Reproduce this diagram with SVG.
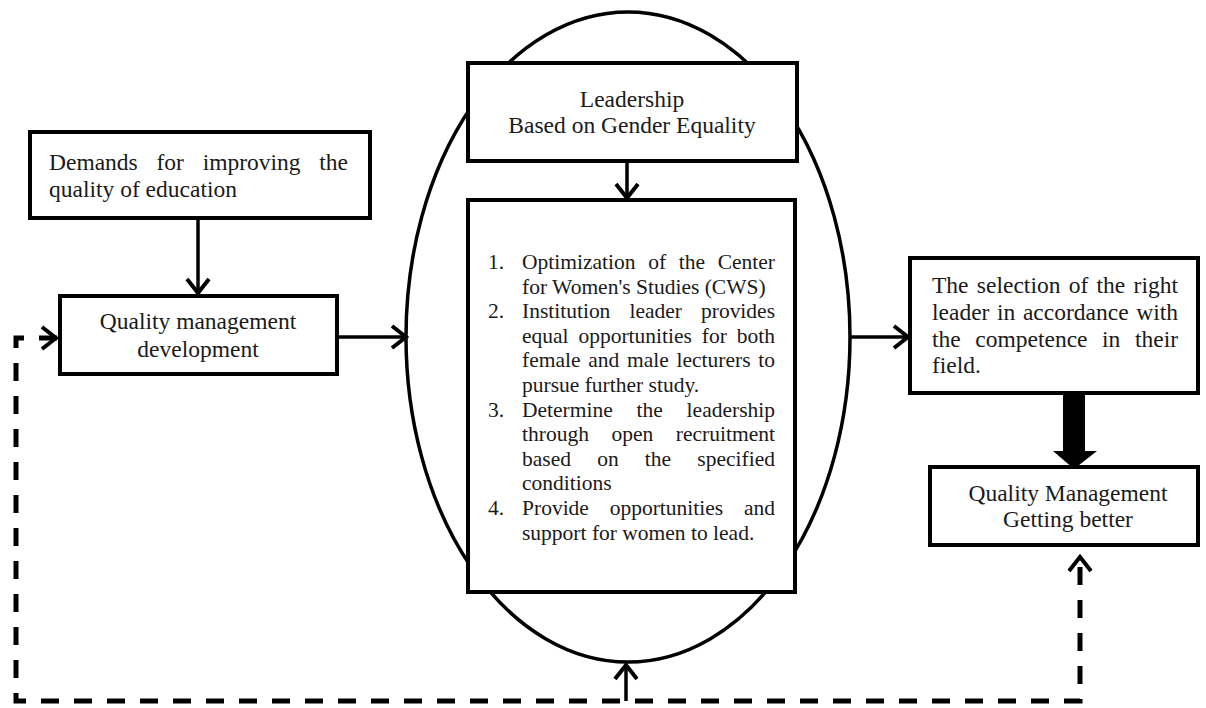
<svg xmlns="http://www.w3.org/2000/svg" width="1206" height="708" viewBox="0 0 1206 708">
<style>
.box{fill:#fff;stroke:#000;stroke-width:4}
.t{font-family:"Liberation Serif","Times New Roman",serif;font-size:23.5px;fill:#1a1a1a}
.l{font-family:"Liberation Serif","Times New Roman",serif;font-size:21.5px;fill:#1a1a1a}
.c{text-anchor:middle}
.con{fill:none;stroke:#000;stroke-width:3.5}
.dash{fill:none;stroke:#000;stroke-width:5;stroke-dasharray:18 15}
.ah{fill:none;stroke:#000;stroke-width:4;stroke-linejoin:miter}
</style>
<defs>
<marker id="arr" markerUnits="userSpaceOnUse" markerWidth="30" markerHeight="30" viewBox="-20 -15 24 30" refX="0" refY="0" orient="auto-start-reverse">
<path class="ah" d="M -15 -11 L -1 0 L -15 11"/>
</marker>
</defs>
<rect width="1206" height="708" fill="#fff"/>

<g id="oval">
<ellipse cx="628" cy="337" rx="222" ry="325" fill="none" stroke="#000" stroke-width="3.5"/>
</g>

<g id="connectors">
<line class="con" x1="198" y1="218" x2="198" y2="294" marker-end="url(#arr)"/>
<line class="con" x1="337" y1="337" x2="407" y2="337" marker-end="url(#arr)"/>
<line class="con" x1="627" y1="161" x2="627" y2="199" marker-end="url(#arr)"/>
<line class="con" x1="851" y1="337" x2="909" y2="337" marker-end="url(#arr)"/>
<rect x="1063" y="393" width="22" height="60" fill="#000"/>
<polygon points="1053,451 1097,451 1074,469" fill="#000"/>
<path class="dash" d="M 57 338 L 16 338 L 16 701 L 1080 701 L 1080 556" marker-start="url(#arr)" marker-end="url(#arr)"/>
<line class="con" x1="626" y1="701" x2="626" y2="664" marker-end="url(#arr)"/>
</g>

<g id="demands">
<rect class="box" x="30" y="132" width="340" height="86"/>
<text class="t" x="49" y="170" word-spacing="12.9" textLength="299" lengthAdjust="spacing">Demands for improving the</text>
<text class="t" x="49" y="197">quality of education</text>
</g>

<g id="qm-development">
<rect class="box" x="60" y="296" width="277" height="78"/>
<text class="t c" x="198" y="329">Quality management</text>
<text class="t c" x="198" y="357">development</text>
</g>

<g id="leadership">
<rect class="box" x="468" y="63" width="329" height="98"/>
<text class="t c" x="632" y="107">Leadership</text>
<text class="t c" x="632" y="133">Based on Gender Equality</text>
</g>

<g id="actions">
<rect class="box" x="468" y="200" width="327" height="392"/>
<text class="l" x="488" y="269">1.</text>
<text class="l" x="522" y="269" word-spacing="7.3" textLength="253" lengthAdjust="spacing">Optimization of the Center</text>
<text class="l" x="522" y="293.6">for Women's Studies (CWS)</text>
<text class="l" x="488" y="318.2">2.</text>
<text class="l" x="522" y="318.2" word-spacing="13.7" textLength="253" lengthAdjust="spacing">Institution leader provides</text>
<text class="l" x="522" y="342.8" word-spacing="4.5" textLength="253" lengthAdjust="spacing">equal opportunities for both</text>
<text class="l" x="522" y="367.4" word-spacing="2.35" textLength="253" lengthAdjust="spacing">female and male lecturers to</text>
<text class="l" x="522" y="392">pursue further study.</text>
<text class="l" x="488" y="416.6">3.</text>
<text class="l" x="522" y="416.6" word-spacing="18.4" textLength="253" lengthAdjust="spacing">Determine the leadership</text>
<text class="l" x="522" y="441.2" word-spacing="17.2" textLength="253" lengthAdjust="spacing">through open recruitment</text>
<text class="l" x="522" y="465.8" word-spacing="20.8" textLength="253" lengthAdjust="spacing">based on the specified</text>
<text class="l" x="522" y="490.4">conditions</text>
<text class="l" x="488" y="515">4.</text>
<text class="l" x="522" y="515" word-spacing="15.4" textLength="253" lengthAdjust="spacing">Provide opportunities and</text>
<text class="l" x="522" y="539.6">support for women to lead.</text>
</g>

<g id="selection">
<rect class="box" x="910" y="258" width="288" height="135"/>
<text class="t" x="932" y="293" word-spacing="2.4" textLength="246" lengthAdjust="spacing">The selection of the right</text>
<text class="t" x="932" y="320" word-spacing="1.7" textLength="246" lengthAdjust="spacing">leader in accordance with</text>
<text class="t" x="932" y="347" word-spacing="8.7" textLength="246" lengthAdjust="spacing">the competence in their</text>
<text class="t" x="932" y="373">field.</text>
</g>

<g id="qm-better">
<rect class="box" x="930" y="467" width="268" height="78"/>
<text class="t c" x="1068" y="501">Quality Management</text>
<text class="t c" x="1068" y="527">Getting better</text>
</g>
</svg>
